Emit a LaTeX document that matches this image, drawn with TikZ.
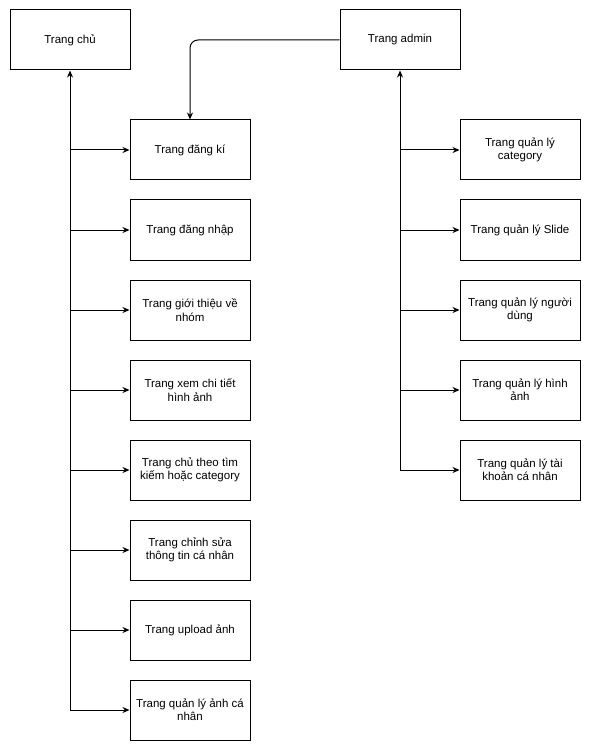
\documentclass[tikz,border=0pt]{standalone}
\usepackage{fontspec}
\setmainfont{Liberation Sans}
\usetikzlibrary{arrows.meta}
\tikzset{
	page/.style={draw, line width=1pt, minimum width=120pt, minimum height=60pt, inner sep=2pt, align=center, font=\fontsize{11.5}{13.5}\selectfont},
	arr/.style={line width=1pt, -{Stealth[length=7pt, width=6pt]}}
}
\begin{document}
\begin{tikzpicture}[x=1pt, y=-1pt]
	\useasboundingbox (0,0) rectangle (591,751);
	% Top pages
	\node[page] at (70, 40) (home) {Trang chủ};
	\node[page] at (400, 40) (admin) {Trang admin};
	% User pages
	\node[page] at (190, 150) (reg) {Trang đăng kí};
	\node[page] at (190, 230) (login) {Trang đăng nhập};
	\node[page] at (190, 310) (about) {Trang giới thiệu về\\nhóm};
	\node[page] at (190, 390) (detail) {Trang xem chi tiết\\hình ảnh};
	\node[page] at (190, 470) (search) {Trang chủ theo tìm\\kiếm hoặc category};
	\node[page] at (190, 550) (profile) {Trang chỉnh sửa\\thông tin cá nhân};
	\node[page] at (190, 630) (upload) {Trang upload ảnh};
	\node[page] at (190, 710) (myimg) {Trang quản lý ảnh cá\\nhân};
	% Admin pages
	\node[page] at (520, 150) (cat) {Trang quản lý\\category};
	\node[page] at (520, 230) (slide) {Trang quản lý Slide};
	\node[page] at (520, 310) (users) {Trang quản lý người\\dùng};
	\node[page] at (520, 390) (images) {Trang quản lý hình\\ảnh};
	\node[page] at (520, 470) (account) {Trang quản lý tài\\khoản cá nhân};
	% Trunks
	\draw[arr] (home.south |- myimg.west) -- (home.south);
	\draw[arr] (admin.south |- account.west) -- (admin.south);
	% Branches
	\foreach \p in {reg, login, about, detail, search, profile, upload, myimg}
		\draw[arr] (home.south |- \p.west) -- (\p.west);
	\foreach \p in {cat, slide, users, images, account}
		\draw[arr] (admin.south |- \p.west) -- (\p.west);
	% Admin to register
	\draw[arr, rounded corners=8pt] (admin.west) -| (reg.north);
\end{tikzpicture}
\end{document}
